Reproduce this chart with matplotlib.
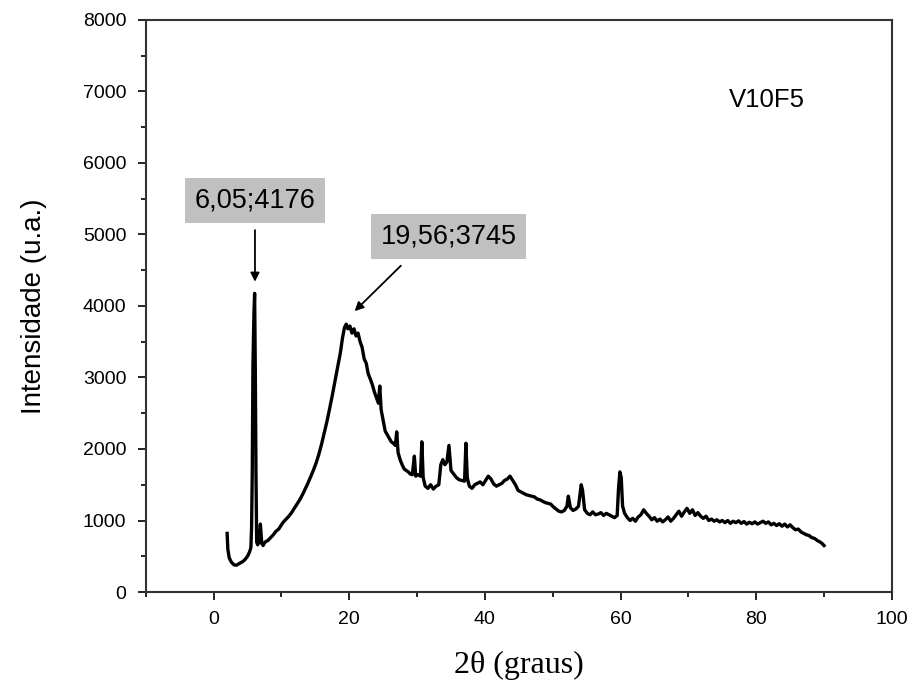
from matplotlib import pyplot as plt
from matplotlib.ticker import MultipleLocator
import numpy as np

# 2theta (graus) and intensity (u.a.)
two_theta = [
    2.0, 2.1, 2.3, 2.6, 3.0, 3.4, 3.8, 4.2, 4.6, 5.0, 5.3, 5.5, 5.6, 5.7, 5.8, 5.95,
    6.05, 6.15, 6.25, 6.35, 6.5, 6.7, 6.9, 7.1, 7.3, 7.6, 8.0, 8.4, 8.8, 9.2, 9.6,
    10.0, 10.3, 10.7, 11.1, 11.5, 11.9, 12.3, 12.7, 13.1, 13.5, 13.9, 14.3, 14.7,
    15.1, 15.5, 15.9, 16.3, 16.7, 17.1, 17.5, 17.9, 18.3, 18.7, 19.0, 19.3, 19.56,
    19.8, 20.1, 20.4, 20.7, 21.0, 21.3, 21.6, 21.9, 22.2, 22.5, 22.8, 23.1, 23.4,
    23.7, 24.0, 24.3, 24.5, 24.7, 25.0, 25.3, 25.6, 25.9, 26.2, 26.5, 26.8, 27.0,
    27.2, 27.5, 27.8, 28.1, 28.4, 28.7, 29.0, 29.3, 29.6, 29.8, 30.1, 30.5, 30.7,
    30.9, 31.2, 31.6, 32.0, 32.4, 32.8, 33.2, 33.5, 33.8, 34.1, 34.4, 34.7, 35.0,
    35.4, 35.8, 36.2, 36.6, 37.0, 37.2, 37.4, 37.7, 38.1, 38.5, 38.9, 39.3, 39.7,
    40.1, 40.5, 40.9, 41.3, 41.7, 42.1, 42.5, 42.9, 43.3, 43.7, 44.1, 44.5, 44.9,
    45.3, 45.7, 46.1, 46.5, 46.9, 47.3, 47.7, 48.1, 48.5, 48.9, 49.3, 49.7, 50.1,
    50.5, 50.9, 51.3, 51.7, 52.1, 52.3, 52.6, 53.0, 53.4, 53.8, 54.2, 54.4, 54.7,
    55.1, 55.5, 55.9, 56.3, 56.7, 57.1, 57.5, 57.9, 58.3, 58.7, 59.1, 59.5, 59.7,
    59.9, 60.1, 60.3, 60.6, 61.0, 61.4, 61.8, 62.2, 62.6, 63.0, 63.4, 63.8, 64.2,
    64.6, 65.0, 65.4, 65.8, 66.2, 66.6, 67.0, 67.4, 67.8, 68.2, 68.6, 69.0, 69.4,
    69.8, 70.2, 70.6, 71.0, 71.4, 71.8, 72.2, 72.6, 73.0, 73.4, 73.8, 74.2, 74.6,
    75.0, 75.4, 75.8, 76.2, 76.6, 77.0, 77.4, 77.8, 78.2, 78.6, 79.0, 79.4, 79.8,
    80.2, 80.6, 81.0, 81.4, 81.8, 82.2, 82.6, 83.0, 83.4, 83.8, 84.2, 84.6, 85.0,
    85.4, 85.8, 86.2, 86.6, 87.0, 87.4, 87.8, 88.2, 88.6, 89.0, 89.4, 89.7, 90.0,
]
intensity = [
    820, 600, 480, 420, 380, 375, 400, 420, 450, 500, 560, 620, 900, 1650, 3150, 3900,
    4176, 3100, 1650, 700, 660, 700, 950, 680, 650, 700, 720, 760, 800, 850, 880,
    940, 980, 1020, 1060, 1110, 1170, 1230, 1290, 1360, 1440, 1520, 1610, 1700,
    1800, 1920, 2060, 2220, 2380, 2560, 2750, 2950, 3150, 3350, 3550, 3700, 3745,
    3680, 3720, 3620, 3680, 3580, 3620, 3500, 3420, 3260, 3200, 3050, 2980, 2900,
    2800, 2720, 2640, 2880, 2550, 2400, 2250, 2200, 2150, 2100, 2080, 2050, 2240,
    1950, 1850, 1780, 1720, 1700, 1680, 1650, 1640, 1900, 1620, 1640, 1620, 2100,
    1600, 1480, 1450, 1500, 1440, 1480, 1500, 1780, 1850, 1780, 1820, 2050, 1700,
    1650, 1600, 1570, 1560, 1550, 2080, 1600, 1480, 1450, 1500, 1520, 1540, 1500,
    1560, 1620, 1580, 1510, 1480, 1500, 1520, 1560, 1580, 1620, 1560, 1500, 1420,
    1400, 1380, 1360, 1350, 1340, 1330, 1300, 1290, 1270, 1250, 1240, 1230, 1190,
    1160, 1130, 1120, 1140, 1200, 1340, 1180, 1140, 1160, 1200, 1500, 1420, 1150,
    1100, 1080, 1120, 1080, 1090, 1110, 1070, 1100, 1080, 1060, 1040, 1070, 1450,
    1680, 1600, 1200, 1100, 1040, 1000, 1030, 990, 1050, 1080, 1150, 1100, 1060,
    1010, 1040, 990, 1020, 980, 1010, 1050, 990, 1030, 1080, 1130, 1060, 1120,
    1170, 1100, 1150, 1070, 1110, 1060, 1030, 1060, 1000, 1020, 990, 1010, 980,
    1000, 970, 1000, 960, 990, 970, 995, 960, 985, 950, 975, 955, 980,
    950, 970, 990, 960, 980, 940, 960, 930, 955, 920, 950, 910, 940,
    900, 870, 880, 840, 820, 800, 790, 760, 750, 720, 700, 680, 650,
]

# peak labels: (text, text position, arrow tail, arrow head)
peak_labels = ["6,05;4176", "19,56;3745"]
label_pos = [(6.1, 5470), (34.7, 4975)]
arrow_tail = [(6.1, 5100), (27.9, 4590)]
arrow_head = [(6.1, 4300), (20.5, 3900)]

plt.rcParams["font.family"] = ["Liberation Sans", "DejaVu Sans"]

fig = plt.figure(figsize=(9.11, 6.86), dpi=100)
ax = fig.add_axes([0.160, 0.137, 0.819, 0.834])

ax.plot(two_theta, intensity, color="black", lw=2.4)

for txt, pos, tail, head in zip(peak_labels, label_pos, arrow_tail, arrow_head):
    ax.text(pos[0], pos[1], txt, fontsize=19.5, ha="center", va="center",
            bbox=dict(boxstyle="square,pad=0.35", facecolor="#c0c0c0", edgecolor="none"))
    ax.annotate("", xy=head, xytext=tail,
                arrowprops=dict(arrowstyle="-|>", color="black", lw=1.3, mutation_scale=13))

ax.text(81.6, 6880, "V10F5", fontsize=18.5, ha="center", va="center")

ax.set_xlim(-10, 100)
ax.set_ylim(0, 8000)
ax.xaxis.set_major_locator(MultipleLocator(20))
ax.xaxis.set_minor_locator(MultipleLocator(10))
ax.yaxis.set_major_locator(MultipleLocator(1000))
ax.yaxis.set_minor_locator(MultipleLocator(500))
ax.tick_params(which="major", direction="out", length=6, width=1.2, labelsize=14, pad=8)
ax.tick_params(which="minor", direction="out", length=3.5, width=1.2)

for sp in ax.spines.values():
    sp.set_color("#333333")
    sp.set_linewidth(1.5)

ax.set_ylabel("Intensidade (u.a.)", fontsize=20, labelpad=26)
ax.set_xlabel("2θ (graus)", fontsize=23, family=["Liberation Serif", "DejaVu Serif"], labelpad=16)

fig.savefig("out.png", dpi=100)
